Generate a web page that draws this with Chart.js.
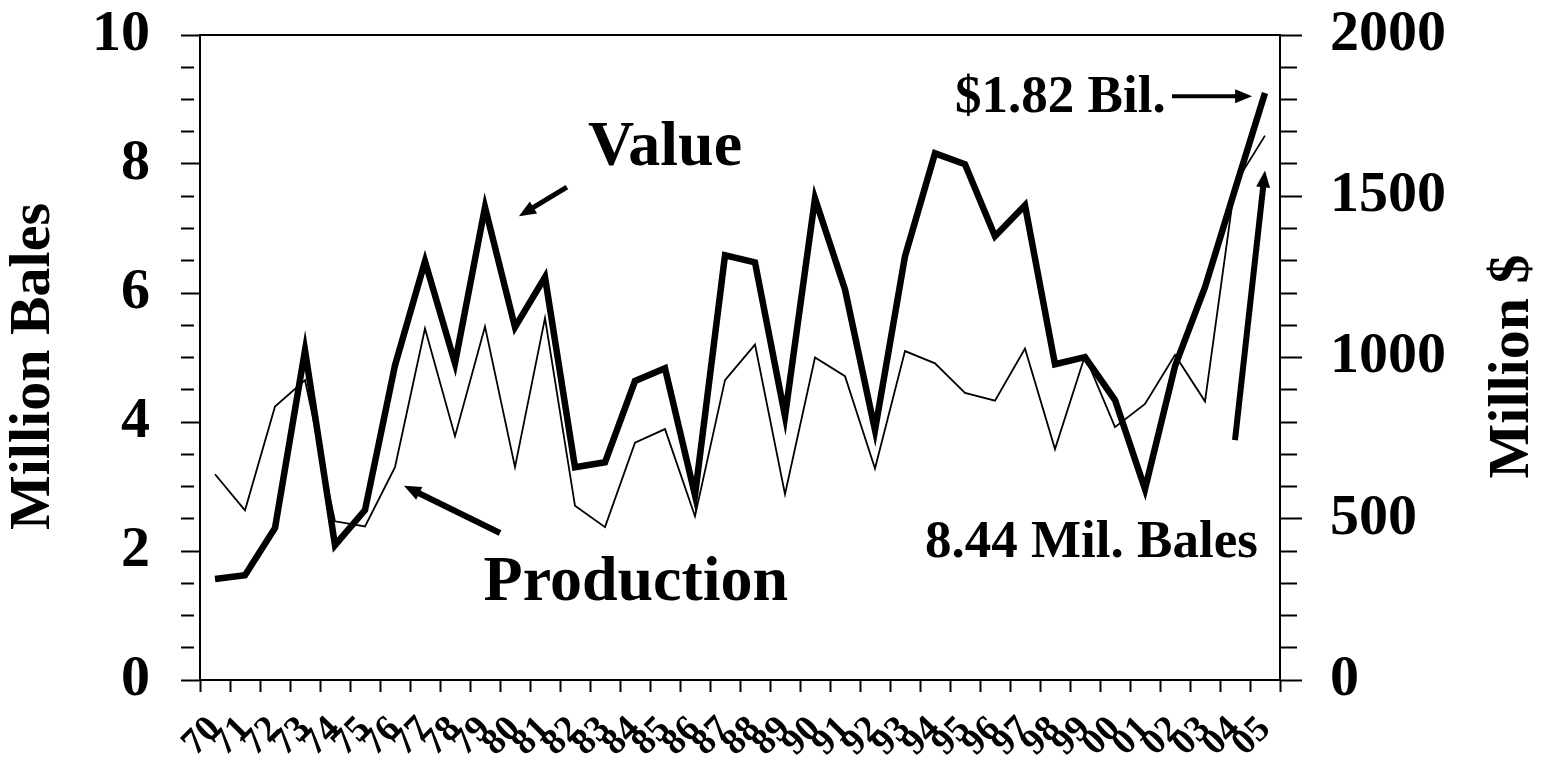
<!DOCTYPE html>
<html>
<head>
<meta charset="utf-8">
<script src="https://cdn.jsdelivr.net/npm/chart.js@4.4.0/dist/chart.umd.min.js"></script>
<style>
  html, body { margin: 0; padding: 0; background: #ffffff; }
  canvas { display: block; }
</style>
</head>
<body>
<canvas id="c" width="1545" height="774"></canvas>
<script>
// ---- data ----
const years = ['70','71','72','73','74','75','76','77','78','79','80','81','82','83','84','85','86','87','88','89',
               '90','91','92','93','94','95','96','97','98','99','00','01','02','03','04','05'];
// Million bales (left axis)
const production = [3.19,2.63,4.24,4.65,2.46,2.38,3.30,5.45,3.78,5.48,3.30,5.61,2.70,2.37,3.68,3.89,2.54,4.65,5.20,2.88,
                    5.00,4.71,3.28,5.10,4.91,4.45,4.33,5.14,3.58,5.03,3.92,4.28,5.04,4.32,7.69,8.44];
// Million $ (right axis)
const value = [313,325,471,1022,418,527,976,1298,982,1466,1094,1249,660,675,927,967,573,1317,1295,818,
               1493,1211,775,1314,1633,1599,1376,1472,979,1001,868,592,973,1218,1521,1820];
const leftTicks = [0,2,4,6,8,10];
const rightTicks = [0,500,1000,1500,2000];
const leftTitle = 'Million Bales';
const rightTitle = 'Million $';

// annotations in data units (x: category index, y: million bales)
const labels = [
  {text: 'Value', x: 15.0, y: 7.98, size: 64, align: 'center'},
  {text: 'Production', x: 14.03, y: 1.24, size: 64, align: 'center'},
  {text: '$1.82 Bil.', x: 24.67, y: 8.81, size: 53, align: 'left'},
  {text: '8.44 Mil. Bales', x: 23.67, y: 1.91, size: 53, align: 'left'}
];
const arrows = [
  {x1: 11.73, y1: 7.64, x2: 10.13, y2: 7.19, w: 5},
  {x1: 9.5, y1: 2.28, x2: 6.3, y2: 3.01, w: 6},
  {x1: 31.9, y1: 9.05, x2: 34.57, y2: 9.05, w: 4},
  {x1: 34.0, y1: 3.72, x2: 35.0, y2: 7.90, w: 6}
];

const FONT = '"Liberation Serif", "Times New Roman", serif';

const annotPlugin = {
  id: 'annot',
  afterDraw(chart) {
    const ctx = chart.ctx;
    const xs = chart.scales.x, ys = chart.scales.y;
    const a = chart.chartArea;
    ctx.save();
    // top border of the plot box
    ctx.strokeStyle = '#000';
    ctx.lineWidth = 2;
    ctx.beginPath();
    ctx.moveTo(a.left, a.top);
    ctx.lineTo(a.right, a.top);
    ctx.stroke();
    ctx.fillStyle = '#000';
    // axis titles (both read bottom-to-top)
    ctx.font = 'bold 58px ' + FONT;
    ctx.textAlign = 'center';
    ctx.textBaseline = 'middle';
    const midY = (a.top + a.bottom) / 2 + 9;
    [[34, leftTitle], [1513, rightTitle]].forEach(([tx, t]) => {
      ctx.save();
      ctx.translate(tx, midY);
      ctx.rotate(-Math.PI / 2);
      ctx.fillText(t, 0, 0);
      ctx.restore();
    });
    // text labels
    ctx.textBaseline = 'alphabetic';
    labels.forEach(l => {
      ctx.font = 'bold ' + l.size + 'px ' + FONT;
      ctx.textAlign = l.align;
      ctx.fillText(l.text, xs.getPixelForValue(l.x), ys.getPixelForValue(l.y));
    });
    // arrows
    arrows.forEach(ar => {
      const x1 = xs.getPixelForValue(ar.x1), y1 = ys.getPixelForValue(ar.y1);
      const x2 = xs.getPixelForValue(ar.x2), y2 = ys.getPixelForValue(ar.y2);
      const ang = Math.atan2(y2 - y1, x2 - x1);
      const hl = 17, hw = 7;
      const bx = x2 - hl * Math.cos(ang), by = y2 - hl * Math.sin(ang);
      ctx.lineWidth = ar.w;
      ctx.lineCap = 'butt';
      ctx.beginPath();
      ctx.moveTo(x1, y1);
      ctx.lineTo(bx + 2 * Math.cos(ang), by + 2 * Math.sin(ang));
      ctx.stroke();
      ctx.beginPath();
      ctx.moveTo(x2, y2);
      ctx.lineTo(bx - hw * Math.sin(ang), by + hw * Math.cos(ang));
      ctx.lineTo(bx + hw * Math.sin(ang), by - hw * Math.cos(ang));
      ctx.closePath();
      ctx.fill();
    });
    ctx.restore();
  }
};

function fixY(width) {
  return (s) => { s.width = width; s.paddingTop = 0; s.paddingBottom = 0; };
}

new Chart(document.getElementById('c'), {
  type: 'line',
  data: {
    labels: years,
    datasets: [
      {label: 'Value', data: value, yAxisID: 'y2', borderColor: '#000', borderWidth: 6.5,
       pointRadius: 0, tension: 0, borderJoinStyle: 'miter'},
      {label: 'Production', data: production, yAxisID: 'y', borderColor: '#000', borderWidth: 1.8,
       pointRadius: 0, tension: 0, borderJoinStyle: 'miter'}
    ]
  },
  options: {
    responsive: false,
    animation: false,
    devicePixelRatio: 1,
    layout: {padding: {top: 35, left: 0, right: 0, bottom: 0}},
    plugins: {legend: {display: false}, tooltip: {enabled: false}},
    scales: {
      x: {
        offset: true,
        grid: {display: true, offset: true, drawOnChartArea: false, tickLength: 12,
               tickWidth: 2, tickColor: '#000', color: '#000'},
        border: {display: true, color: '#000', width: 2},
        ticks: {color: '#000', font: {family: FONT, weight: 'bold', size: 37},
                minRotation: 45, maxRotation: 45, autoSkip: false, padding: 16},
        afterFit(s) { s.height = 94; s.paddingLeft = 0; s.paddingRight = 0; }
      },
      y: {
        position: 'left', min: 0, max: 10,
        grid: {display: true, drawOnChartArea: false, tickLength: 19, tickWidth: 2, tickColor: '#000',
               tickBorderDash: (c) => (c.tick && leftTicks.includes(c.tick.value)) ? [] : [13, 60]},
        border: {display: true, color: '#000', width: 2},
        ticks: {stepSize: 0.5, autoSkip: false, color: '#000', padding: 31,
                font: {family: FONT, weight: 'bold', size: 58},
                callback: (v) => leftTicks.includes(v) ? String(v) : ''},
        title: {display: false},
        afterFit: fixY(200)
      },
      y2: {
        position: 'right', min: 0, max: 2000,
        grid: {display: true, drawOnChartArea: false, tickLength: 22, tickWidth: 2, tickColor: '#000',
               tickBorderDash: (c) => (c.tick && rightTicks.includes(c.tick.value)) ? [] : [16, 60]},
        border: {display: true, color: '#000', width: 2},
        ticks: {stepSize: 100, autoSkip: false, color: '#000', padding: 28,
                font: {family: FONT, weight: 'bold', size: 58},
                callback: (v) => rightTicks.includes(v) ? String(v) : ''},
        title: {display: false},
        afterFit: fixY(265)
      }
    }
  },
  plugins: [annotPlugin]
});
</script>
</body>
</html>
